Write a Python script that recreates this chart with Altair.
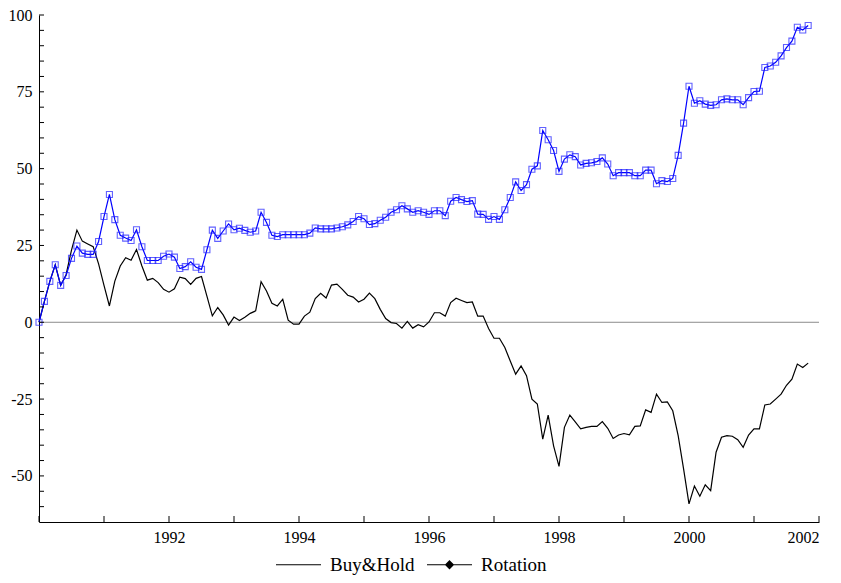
import altair as alt
import pandas as pd

series_names = ["Buy&Hold", "Rotation"]

# monthly observations, Jan 1990 .. Nov 2001 (143 months)
buy_hold = [
    0, 6.8, 13.3, 18.7, 12.0, 15.5, 23.5, 30.0, 26.4, 25.5,
    24.6, 19.0, 12.0, 5.3, 13.4, 18.3, 21.0, 20.2, 23.7, 18.3,
    13.7, 14.3, 12.9, 10.7, 9.8, 10.9, 14.7, 14.2, 12.3, 14.3,
    14.9, 8.5, 2.1, 4.8, 2.4, -0.9, 1.7, 0.6, 1.6, 2.9,
    3.7, 13.2, 10.2, 6.2, 5.3, 7.5, 0.7, -0.6, -0.6, 2.0,
    3.3, 7.7, 9.4, 7.9, 12.1, 12.4, 10.7, 8.8, 8.2, 6.6,
    7.5, 9.5, 7.7, 4.2, 1.2, -0.1, -0.4, -1.9, 0.3, -1.9,
    -0.8, -1.5, 0.1, 3.1, 3.1, 2.0, 6.4, 7.8, 7.1, 6.4,
    6.6, 2.0, 2.0, -2.0, -5.2, -5.2, -8.2, -12.6, -16.9, -14.2,
    -17.4, -25.0, -26.6, -38.0, -30.2, -40.2, -46.9, -34.2, -30.2, -32.4,
    -34.7, -34.2, -33.9, -33.9, -32.3, -34.5, -37.8, -36.7, -36.2, -36.6,
    -33.9, -33.7, -28.5, -29.3, -23.4, -26.1, -25.9, -28.8, -36.9, -47.7,
    -59.1, -53.3, -56.6, -52.9, -54.8, -42.3, -37.4, -36.9, -37.1, -38.2,
    -40.7, -36.7, -34.7, -34.7, -26.9, -26.6, -25.0, -23.4, -20.5, -18.5,
    -13.6, -14.7, -13.3,
]

rotation = [
    0, 6.8, 13.3, 18.7, 12.0, 15.2, 20.8, 24.8, 22.5, 22.1,
    22.1, 26.3, 34.4, 41.6, 33.4, 28.3, 27.4, 26.6, 30.1, 24.6,
    20.1, 20.1, 20.1, 21.5, 22.2, 21.2, 17.5, 18.1, 19.7, 17.9,
    17.2, 23.6, 30.0, 27.3, 29.7, 32.0, 30.1, 30.6, 29.9, 29.3,
    29.7, 35.8, 32.5, 28.3, 27.9, 28.5, 28.5, 28.5, 28.5, 28.5,
    29.0, 30.7, 30.4, 30.4, 30.4, 30.7, 31.1, 31.7, 32.8, 34.4,
    33.7, 31.8, 32.1, 33.2, 34.2, 35.8, 36.6, 37.9, 36.9, 35.8,
    36.3, 35.8, 35.1, 36.3, 36.3, 34.7, 39.4, 40.6, 39.9, 39.3,
    39.6, 35.2, 35.1, 33.5, 34.4, 33.5, 36.6, 40.6, 45.7, 42.9,
    44.8, 49.8, 50.9, 62.4, 59.4, 55.9, 49.1, 53.1, 54.5, 53.9,
    51.2, 51.7, 51.9, 52.3, 53.5, 51.5, 47.7, 48.7, 48.7, 48.7,
    47.7, 47.7, 49.5, 49.5, 45.1, 46.1, 45.8, 46.8, 54.3, 64.8,
    76.8, 71.3, 72.1, 71.0, 70.6, 70.8, 72.4, 72.7, 72.4, 72.4,
    70.8, 73.1, 75.1, 75.2, 82.9, 83.4, 84.6, 86.7, 89.4, 91.5,
    96.0, 95.1, 96.6,
]

start_year = 1990
x_label_values = [1992, 1994, 1996, 1998, 2000, 2002]
x_tick_values = list(range(1990, 2003))
y_label_values = [-50, -25, 0, 25, 50, 75, 100]
y_tick_values = list(range(-60, 101, 5))

n = len(rotation)
years = [start_year + m / 12 for m in range(n)]
df = pd.DataFrame({
    "year": years + years,
    "value": buy_hold + rotation,
    "series": [series_names[0]] * n + [series_names[1]] * n,
})
rot_df = df[df["series"] == "Rotation"]

FONT = "Liberation Serif"
xscale = alt.Scale(domain=[1990, 2002], nice=False, zero=False)
yscale = alt.Scale(domain=[-65, 100], nice=False, zero=False)

x_axis = alt.Axis(values=x_label_values, labelExpr="datum.value + ''", ticks=False,
                  grid=False, title=None, domainColor="black", labelFont=FONT,
                  labelFontSize=16, labelColor="black", labelPadding=7)
y_axis = alt.Axis(values=y_label_values, labelExpr="datum.value + ''", ticks=False,
                  grid=False, title=None, domainColor="black", labelFont=FONT,
                  labelFontSize=16, labelColor="black", labelPadding=7)

zero_rule = alt.Chart(pd.DataFrame({"z": [0]})).mark_rule(color="#8c8c8c", strokeWidth=1).encode(
    y=alt.Y("z:Q", scale=yscale, axis=y_axis)
)

# colour domain listed in reverse order so its (hidden) legend is not merged with the shape legend
lines = alt.Chart(df).mark_line(strokeWidth=1.2).encode(
    x=alt.X("year:Q", scale=xscale, axis=x_axis),
    y=alt.Y("value:Q", scale=yscale, axis=y_axis),
    color=alt.Color("series:N", scale=alt.Scale(domain=series_names[::-1], range=["#0000ff", "black"]),
                    legend=None),
)

points = alt.Chart(rot_df).mark_point(shape="square", filled=False, size=36, strokeWidth=1.1,
                                       color="#1f1fff").encode(
    x=alt.X("year:Q", scale=xscale, axis=x_axis),
    y=alt.Y("value:Q", scale=yscale, axis=y_axis),
)

line_path = "M-1,0H1"
diamond_path = ("M-1,0H1M0,-0.17L0.17,0L0,0.17L-0.17,0Z"
                "M0,-0.11L0.11,0L0,0.11L-0.11,0Z"
                "M0,-0.05L0.05,0L0,0.05L-0.05,0Z")

# invisible layer whose only job is to provide the legend
legend_layer = alt.Chart(df).mark_point(size=0, strokeWidth=0).encode(
    x=alt.X("year:Q", scale=xscale, axis=x_axis),
    y=alt.Y("value:Q", scale=yscale, axis=y_axis),
    shape=alt.Shape("series:N", scale=alt.Scale(domain=series_names, range=[line_path, diamond_path]),
                    legend=alt.Legend(title=None, orient="none", legendX=236, legendY=526,
                                      direction="horizontal", symbolSize=2025,
                                      symbolStrokeColor="black", symbolFillColor="black",
                                      symbolOpacity=1, symbolStrokeWidth=1.2,
                                      labelFont=FONT, labelFontSize=19, labelColor="black",
                                      labelOffset=8, columnPadding=9)),
)

x_ticks = alt.Chart(pd.DataFrame({"t": x_tick_values})).mark_rule(color="black").encode(
    x=alt.X("t:Q", scale=xscale, axis=x_axis),
    y=alt.value(507), y2=alt.value(501),
)
y_ticks = alt.Chart(pd.DataFrame({"t": y_tick_values})).mark_rule(color="black").encode(
    y=alt.Y("t:Q", scale=yscale, axis=y_axis),
    x=alt.value(0), x2=alt.value(5),
)

chart = alt.layer(zero_rule, lines, points, legend_layer, x_ticks, y_ticks).properties(
    width=780, height=507,
    background="white",
    autosize=alt.AutoSizeParams(type="none"),
    padding={"left": 31, "top": 7, "right": 14, "bottom": 53},
).configure_view(stroke=None)

chart.save("out.html", embed_options={"renderer": "svg", "actions": False})
